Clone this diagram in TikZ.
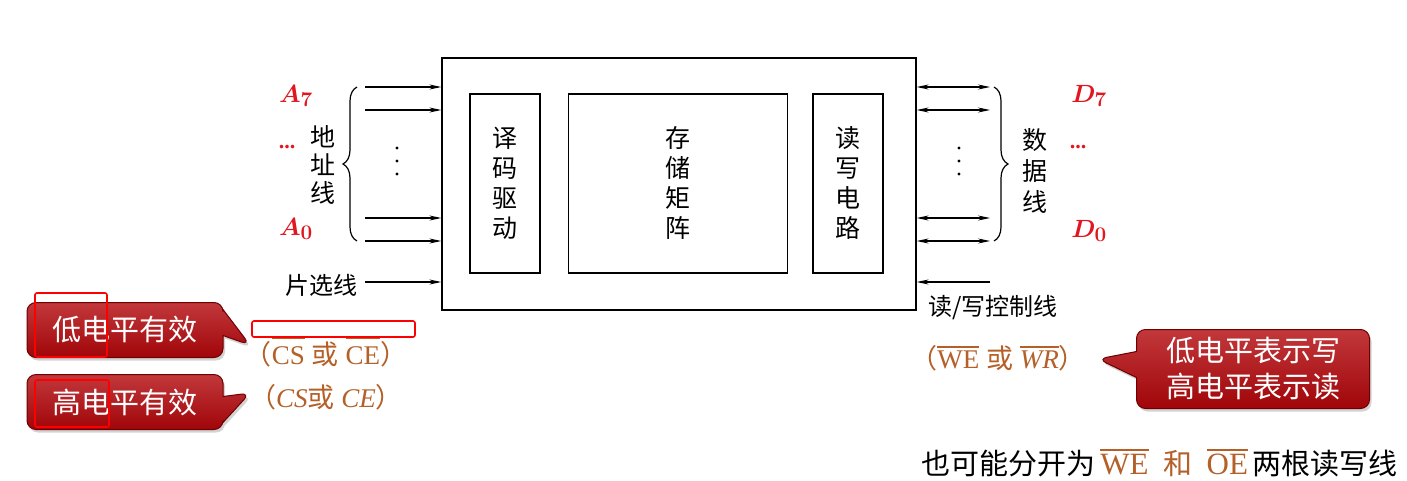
\documentclass[tikz,border=0pt]{standalone}
\usepackage{fontspec}
\setmainfont{Liberation Serif}
\newfontfamily\cjk{Noto Sans CJK SC}
\usetikzlibrary{arrows.meta,decorations.pathreplacing,shapes.callouts,shadows}
\definecolor{ared}{RGB}{226,22,30}
\definecolor{brn}{RGB}{180,96,40}
\definecolor{cred}{RGB}{178,6,10}
\definecolor{cdark}{RGB}{110,0,0}
\newcommand\oltg[2]{\setbox0\hbox{#2}\rlap{\raisebox{\dimexpr\ht0+#1\relax}{\rule{\wd0}{1.6pt}}}\box0\relax}
\newcommand\olt[1]{\oltg{3pt}{#1}}
\begin{document}
\begin{tikzpicture}[x=1pt,y=-1pt,
  blk/.style={draw, line width=1.3pt, inner sep=0pt},
  cj/.style={font=\cjk\fontsize{25}{30}\selectfont, align=center, inner sep=0pt},
  arr/.style={line width=1.1pt, -{Stealth[length=12pt,width=5pt]}},
  darr/.style={line width=1.1pt, {Stealth[length=12pt,width=5pt]}-{Stealth[length=12pt,width=5pt]}},
  brc/.style={line width=1.2pt, decorate, decoration={brace, amplitude=14pt}},
  lbl/.style={text=ared, font=\fontsize{30}{32}\selectfont\boldmath, inner sep=0pt},
  dts/.style={text=ared, font=\fontsize{22}{22}\selectfont\bfseries, inner sep=0pt},
  br/.style={text=brn, font=\fontsize{27}{30}\selectfont, inner sep=0pt},
  call/.style={rectangle callout, rounded corners=9pt, draw=cdark, line width=1pt,
     top color=cred!80!white, bottom color=cred!90!black, text=white,
     callout pointer width=26pt,
     font=\cjk\fontsize{29}{36}\selectfont, align=center, inner sep=0pt,
     drop shadow={shadow xshift=2pt, shadow yshift=-3pt, fill=gray!70}},
  redmark/.style={draw=red, line width=1.6pt, rounded corners=2pt}
]
\useasboundingbox (0,0) rectangle (1407,480);
\fill[white] (0,0) rectangle (1407,480);

% chip
\node[blk, minimum width=474pt, minimum height=252pt] (chip) at (679,184) {};
\node[blk, minimum width=70pt, minimum height=179pt] (dec) at (505,183.5) {};
\node[blk, minimum width=219pt, minimum height=179pt] (mat) at (678,183.5) {};
\node[blk, minimum width=70pt, minimum height=179pt] (rw) at (848,183.5) {};
\node[cj] (dect) at (505,183) {译\\码\\驱\\动};
\node[cj] (matt) at (678,183) {存\\储\\矩\\阵};
\node[cj] (rwt) at (848,183) {读\\写\\电\\路};

% left address lines
\coordinate (a1) at (365,87);
\coordinate (a2) at (365,110);
\coordinate (a3) at (365,218);
\coordinate (a4) at (365,241);
\foreach \c in {a1,a2,a3,a4} \draw[arr] (\c) -- (\c -| chip.west);
\coordinate (lb1) at (357,241);
\coordinate (lb2) at (357,87);
\draw[brc] (lb1) -- (lb2);
\foreach \yy in {148,161,174} \fill (397,\yy) circle (1.7pt);
\node[cj, font=\cjk\fontsize{25}{28}\selectfont] (addr) at (323,165) {地\\址\\线};
\node[lbl] (A7) at (296,96) {$A_7$};
\node[lbl] (A0) at (296,229) {$A_0$};
\node[dts] (ld) at (287,147) {...};

% chip select
\node[cj, font=\cjk\fontsize{24}{26}\selectfont] (cs) at (321,285) {片选线};
\coordinate (css) at (365,282);
\draw[arr] (css) -- (css -| chip.west);

% right data lines
\coordinate (d1) at (990,87);
\coordinate (d2) at (990,110);
\coordinate (d3) at (990,218);
\coordinate (d4) at (990,241);
\foreach \c in {d1,d2,d3,d4} \draw[darr] (\c -| chip.east) -- (\c);
\coordinate (rb1) at (994,87);
\coordinate (rb2) at (994,241);
\draw[brc] (rb1) -- (rb2);
\foreach \yy in {148,161,174} \fill (959,\yy) circle (1.7pt);
\node[cj, font=\cjk\fontsize{25}{31}\selectfont] (data) at (1035,171) {数\\据\\线};
\node[lbl] (D7) at (1089,96) {$D_7$};
\node[lbl] (D0) at (1089,231) {$D_0$};
\node[dts] (rd) at (1078,147) {...};

% read/write control
\coordinate (rws) at (990,282);
\draw[arr] (rws) -- (rws -| chip.east);
\node[cj, font=\cjk\fontsize{24}{26}\selectfont] (rwc) at (993,308) {读/写控制线};
\node[br] (we) at (998,358) {{\cjk （}\olt{WE} {\cjk 或} \olt{\itshape WR}{\cjk ）}};

% callouts
\node[call, minimum width=233pt, minimum height=79pt, callout absolute pointer={(1098,359)}] (c3) at (1253,369) {低电平表示写\\高电平表示读};
\node[call, minimum width=196pt, minimum height=55pt, callout absolute pointer={(250,345)}] (c1) at (125,330) {低电平有效};
\node[call, minimum width=196pt, minimum height=55pt, callout absolute pointer={(250,393)}] (c2) at (125,402) {高电平有效};

\node[br] (cs1) at (326,352) {{\cjk （}\oltg{8pt}{CS} {\cjk 或} \oltg{8pt}{CE}{\cjk ）}};
\node[br] (cs2) at (326,397) {{\cjk （}\textit{CS}{\cjk 或} \textit{CE}{\cjk ）}};

% red annotation marks
\draw[redmark] (35,293) rectangle (107,357);
\draw[redmark] (35,380) rectangle (109,427);
\draw[redmark] (252,321) rectangle (415,337);

% bottom note
\node[inner sep=0pt, font=\cjk\fontsize{29}{31}\selectfont, anchor=east] (note) at (1398,463)
  {也可能分开为\,{\color{brn}\fontspec{Liberation Serif}\fontsize{31}{31}\selectfont\olt{WE}}\; {\color{brn}和}\; {\color{brn}\fontspec{Liberation Serif}\fontsize{31}{31}\selectfont\olt{OE}}\,两根读写线};
\end{tikzpicture}
\end{document}
